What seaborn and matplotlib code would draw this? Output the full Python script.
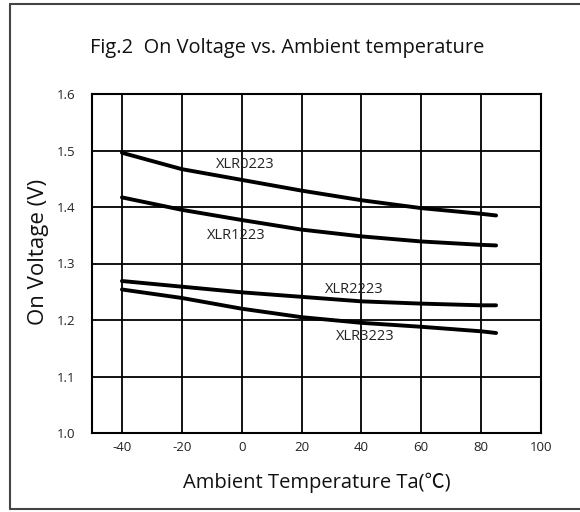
import matplotlib
matplotlib.use("Agg")
import matplotlib.pyplot as plt
import seaborn as sns
import pandas as pd
from matplotlib.lines import Line2D

sns.set_theme(style="white")
plt.rcParams['font.family'] = ['Open Sans', 'Noto Sans CJK SC', 'DejaVu Sans']

temps = [-40, -20, 0, 20, 40, 60, 80, 85]
xlr0223 = [1.496, 1.467, 1.448, 1.429, 1.412, 1.398, 1.388, 1.385]
xlr1223 = [1.417, 1.395, 1.377, 1.360, 1.348, 1.339, 1.333, 1.332]
xlr2223 = [1.269, 1.259, 1.249, 1.241, 1.233, 1.229, 1.226, 1.226]
xlr3223 = [1.254, 1.239, 1.220, 1.205, 1.195, 1.188, 1.180, 1.177]

series_names = ["XLR0223", "XLR1223", "XLR2223", "XLR3223"]
label_x = [1.3, -1.7, 37.5, 41.3]
label_y = [1.475, 1.349, 1.254, 1.171]

x_ticks = [-40, -20, 0, 20, 40, 60, 80, 100]
y_ticks = [1.0, 1.1, 1.2, 1.3, 1.4, 1.5, 1.6]

rows = []
for name, vals in zip(series_names, [xlr0223, xlr1223, xlr2223, xlr3223]):
    for t, v in zip(temps, vals):
        rows.append({"T": t, "V": v, "series": name})
df = pd.DataFrame(rows)

fig = plt.figure(figsize=(5.8, 5.12), dpi=100)
ax = fig.add_axes([92/580, 1-433/512, 449/580, 339/512])

sns.lineplot(data=df, x="T", y="V", hue="series", palette=["black"]*4,
             linewidth=2.8, legend=False, ax=ax, sort=True)

ax.set_xlim(-50, 100)
ax.set_ylim(1.0, 1.6)
ax.set_xticks(x_ticks)
ax.set_yticks(y_ticks)
ax.set_xticklabels([str(t) for t in x_ticks])
ax.set_yticklabels([f"{v:.1f}" for v in y_ticks])
ax.grid(True, color="black", linewidth=1.3)
for s in ax.spines.values():
    s.set_color("black")
    s.set_linewidth(1.5)
ax.tick_params(length=0, labelsize=9.5, colors="#222222")
ax.tick_params(axis="x", pad=6)
ax.tick_params(axis="y", pad=12)

for name, lx, ly in zip(series_names, label_x, label_y):
    ax.text(lx, ly, name, ha="center", va="center", fontsize=10.5, color="#222222")

ax.set_xlabel("Ambient Temperature Ta(℃)", fontsize=14.5, color="#111111", labelpad=13)
ax.set_ylabel("On Voltage (V)", fontsize=16, color="#111111")
ax.yaxis.set_label_coords(-0.096, 0.534)

fig.text(287/580, 1-48/512, "Fig.2  On Voltage vs. Ambient temperature",
         ha="center", va="center", fontsize=14.4, color="#111111")

# figure border
fig.add_artist(Line2D([10/580, 10/580], [1-4/512, 1-509/512], transform=fig.transFigure, color="#444444", linewidth=1.5))
fig.add_artist(Line2D([10/580, 1.0], [1-4/512, 1-4/512], transform=fig.transFigure, color="#444444", linewidth=1.5))
fig.add_artist(Line2D([10/580, 1.0], [1-509/512, 1-509/512], transform=fig.transFigure, color="#444444", linewidth=1.5))

fig.savefig("out.png", dpi=100)
